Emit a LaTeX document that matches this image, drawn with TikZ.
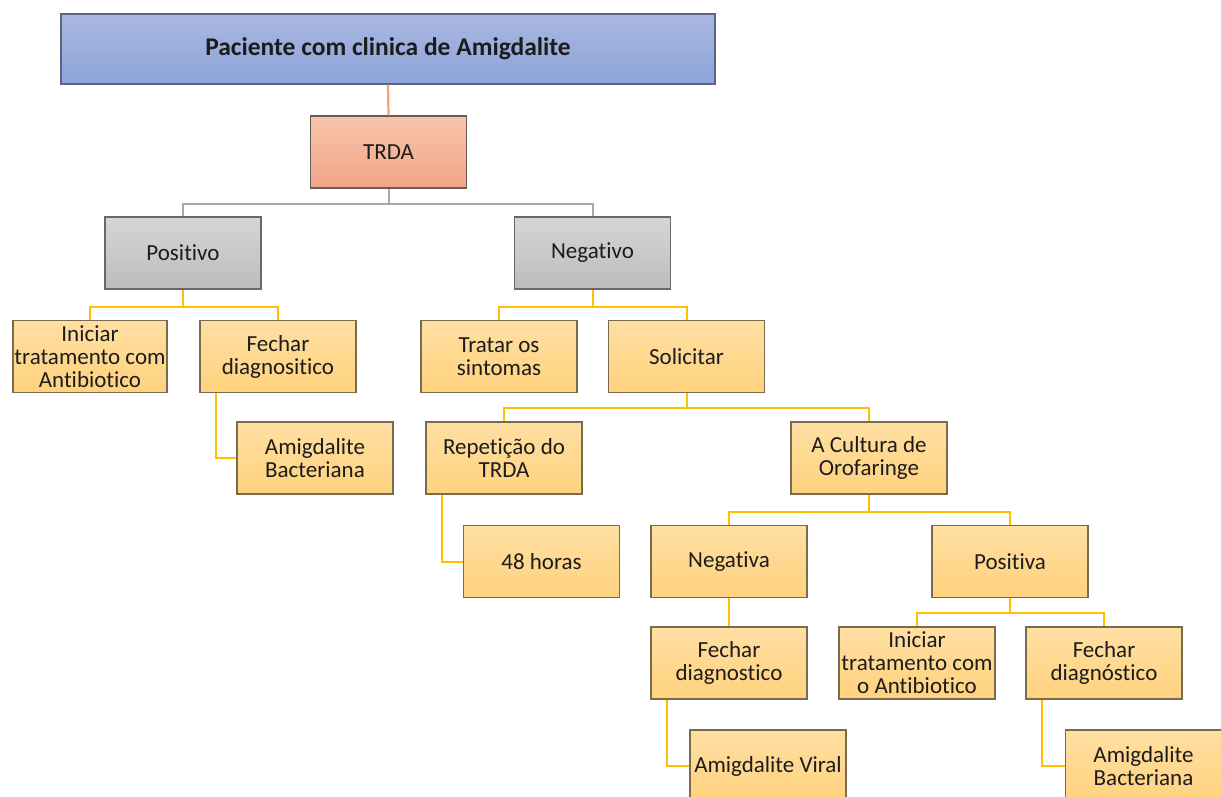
\documentclass[tikz,border=0pt]{standalone}
\usepackage{fontspec}
\setmainfont{Carlito}[Ligatures={NoCommon}]
\usetikzlibrary{calc}
\definecolor{btop}{HTML}{A9B7E1}
\definecolor{bbot}{HTML}{8CA4D8}
\definecolor{bline}{HTML}{5A6580}
\definecolor{stop}{HTML}{F6C4AD}
\definecolor{sbot}{HTML}{F2A586}
\definecolor{sline}{HTML}{6B5A52}
\definecolor{gtop}{HTML}{D6D6D6}
\definecolor{gbot}{HTML}{BCBCBC}
\definecolor{gline}{HTML}{686868}
\definecolor{ytop}{HTML}{FFDFA3}
\definecolor{ybot}{HTML}{FFD27D}
\definecolor{yline}{HTML}{7A6B4C}
\definecolor{ycon}{HTML}{FFC000}
\definecolor{ocon}{HTML}{F4A07A}
\definecolor{gcon}{HTML}{A8A8A8}
\definecolor{txt}{HTML}{1C1C1C}
\begin{document}
\begin{tikzpicture}[x=1pt,y=-1pt,
  box/.style={line width=1.3pt, minimum width=156pt, minimum height=72pt, inner sep=0pt,
    align=center, font=\fontsize{23}{23}\selectfont, text=txt},
  ybox/.style={box, draw=yline, top color=ytop, bottom color=ybot},
  gbox/.style={box, draw=gline, top color=gtop, bottom color=gbot},
  sbox/.style={box, draw=sline, top color=stop, bottom color=sbot},
  bbox/.style={box, draw=bline, top color=btop, bottom color=bbot, minimum width=654pt, minimum height=70pt,
    font=\fontsize{25.5}{27}\selectfont\bfseries},
  ycn/.style={draw=ycon, line width=2pt},
  gcn/.style={draw=gcon, line width=2pt},
  ocn/.style={draw=ocon, line width=2.2pt}]
\useasboundingbox (0,0) rectangle (1221,796);
\clip (0,0) rectangle (1221,796);

\node[bbox] (top) at (388,49) {Paciente com clinica de Amigdalite};
\node[sbox] (trda) at (388.5,152) {TRDA};
\node[gbox] (pos) at (183,253) {Positivo};
\node[gbox] (neg) at (592.5,253) {Negativo};

\node[ybox, minimum width=154pt] (ini1) at (90,356.5) {Iniciar\\tratamento com\\Antibiotico};
\node[ybox] (fec1) at (278,356.5) {Fechar\\diagnositico};
\node[ybox] (tra) at (499,356.5) {Tratar os\\sintomas};
\node[ybox] (sol) at (686.5,356.5) {Solicitar};

\node[ybox] (amb1) at (315,458) {Amigdalite\\Bacteriana};
\node[ybox] (rep) at (504,458) {Repetição do\\TRDA};
\node[ybox] (cul) at (869,458) {A Cultura de\\Orofaringe};

\node[ybox] (h48) at (541.5,561.5) {48 horas};
\node[ybox] (nga) at (729,561.5) {Negativa};
\node[ybox] (psa) at (1010,561.5) {Positiva};

\node[ybox] (fec2) at (729,663) {Fechar\\diagnostico};
\node[ybox] (ini2) at (917,663) {Iniciar\\tratamento com\\o Antibiotico};
\node[ybox] (fec3) at (1104,663) {Fechar\\diagnóstico};

\node[ybox] (vir) at (768,766) {Amigdalite Viral};
\node[ybox] (amb2) at (1143.5,766) {Amigdalite\\Bacteriana};

% connectors
\draw[ocn] (top.south) -- (trda.north);
\draw[gcn] (trda.south) -- ++(0,15) -| (pos.north);
\draw[gcn] (trda.south) -- ++(0,15) -| (neg.north);

\draw[ycn] (pos.south) -- ++(0,17) -| (ini1.north);
\draw[ycn] (pos.south) -- ++(0,17) -| (fec1.north);
\draw[ycn] ([xshift=17pt]fec1.south west) |- (amb1.west);

\draw[ycn] (neg.south) -- ++(0,17) -| (tra.north);
\draw[ycn] (neg.south) -- ++(0,17) -| (sol.north);

\draw[ycn] (sol.south) -- ++(0,15) -| (rep.north);
\draw[ycn] (sol.south) -- ++(0,15) -| (cul.north);
\draw[ycn] ([xshift=17pt]rep.south west) |- (h48.west);

\draw[ycn] (cul.south) -- ++(0,17) -| (nga.north);
\draw[ycn] (cul.south) -- ++(0,17) -| (psa.north);

\draw[ycn] (nga.south) -- (fec2.north);
\draw[ycn] ([xshift=17pt]fec2.south west) |- (vir.west);

\draw[ycn] (psa.south) -- ++(0,15) -| (ini2.north);
\draw[ycn] (psa.south) -- ++(0,15) -| (fec3.north);
\draw[ycn] ([xshift=17pt]fec3.south west) |- (amb2.west);
\end{tikzpicture}
\end{document}
